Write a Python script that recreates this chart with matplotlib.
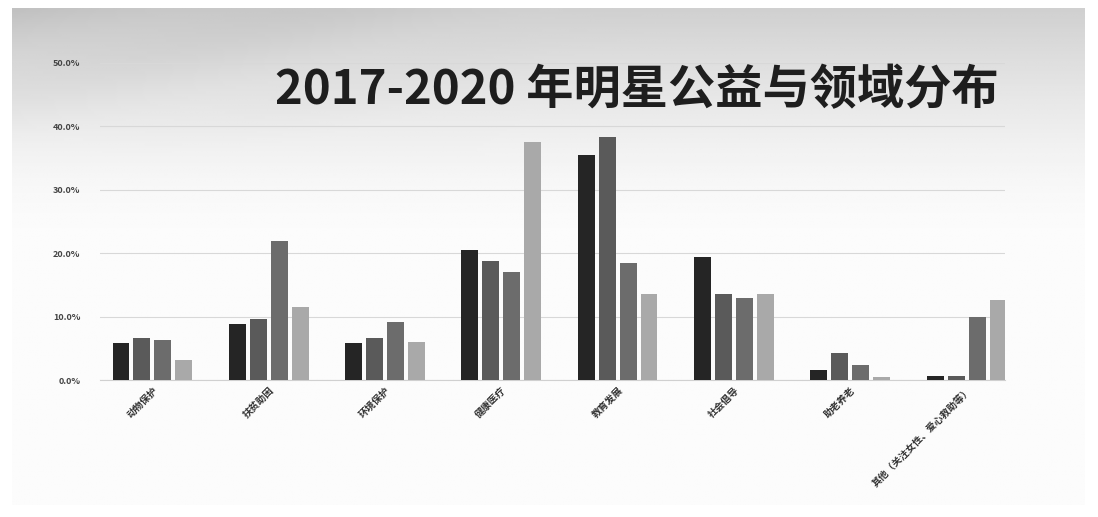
import numpy as np
import matplotlib
matplotlib.use("Agg")
import matplotlib.pyplot as plt
from matplotlib.ticker import PercentFormatter

plt.rcParams['font.family'] = ['Noto Sans CJK SC', 'DejaVu Sans']

# 数据
categories = ["动物保护", "扶贫助困", "环境保护", "健康医疗", "教育发展",
              "社会倡导", "助老养老", "其他（关注女性、爱心救助等）"]
years = ["2017", "2018", "2019", "2020"]
v2017 = [5.9, 8.8, 5.9, 20.5, 35.5, 19.4, 1.6, 0.7]
v2018 = [6.7, 9.6, 6.7, 18.8, 38.3, 13.6, 4.2, 0.7]
v2019 = [6.3, 21.9, 9.1, 17.1, 18.5, 12.9, 2.4, 10.0]
v2020 = [3.2, 11.5, 6.0, 37.5, 13.6, 13.6, 0.4, 12.6]
series = [v2017, v2018, v2019, v2020]
colors = ["#252525", "#5a5a5a", "#6c6c6c", "#a9a9a9"]

fig = plt.figure(figsize=(10.98, 5.17), dpi=100)
fig.patch.set_facecolor("white")

# 背景渐变
bg = fig.add_axes([12 / 1098, 12 / 517, 1073 / 1098, 497 / 517])
yy, xx = np.mgrid[0:1:200j, 0:1:400j]
shade = 0.985 - 0.17 * np.clip(1 - yy / 0.45, 0, 1) ** 1.5 - 0.06 * np.clip(1 - xx / 0.5, 0, 1) * np.clip(1 - yy / 0.3, 0, 1)
shade = shade + 0.015 * np.sin(40 * (xx * 0.6 + yy) ** 1.3) * np.clip(1 - yy / 0.3, 0, 1) * np.clip(1 - xx / 0.6, 0, 1)
bg.imshow(np.clip(shade, 0, 1), cmap="gray", vmin=0, vmax=1, aspect="auto", extent=[0, 1, 1, 0])
bg.axis("off")

ax = fig.add_axes([100 / 1098, (517 - 380) / 517, 905 / 1098, 317 / 517])
ax.patch.set_alpha(0)

x = np.arange(len(categories))
w = 0.145
step = 0.18
for i, (vals, c) in enumerate(zip(series, colors)):
    ax.bar(x + (i - 1.5) * step, np.array(vals) / 100, width=w, color=c, label=years[i], zorder=3)

ax.set_ylim(0, 0.5)
ax.set_xlim(-0.45, 7.33)
ax.set_yticks(np.arange(0, 0.51, 0.1))
ax.yaxis.set_major_formatter(PercentFormatter(1.0, decimals=1))
ax.grid(axis="y", color="#d8d8d8", linewidth=0.8, zorder=0)
for s in ["top", "right", "left"]:
    ax.spines[s].set_visible(False)
ax.spines["bottom"].set_color("#d0d0d0")
ax.tick_params(axis="both", length=0, colors="#444444", labelsize=6.5)
ax.tick_params(axis="y", pad=14)
ax.set_xticks(x)
ax.set_xticklabels(categories, rotation=45, ha="right", rotation_mode="anchor",
                   fontsize=7, color="#333333", fontweight="bold")
for lbl in ax.get_yticklabels():
    lbl.set_fontweight("bold")

fig.text(0.91, 0.825, "2017-2020 年明星公益与领域分布", ha="right", va="center",
         fontsize=34, fontweight="black", color="#1e1e1e")

plt.savefig("out.png", dpi=100)
